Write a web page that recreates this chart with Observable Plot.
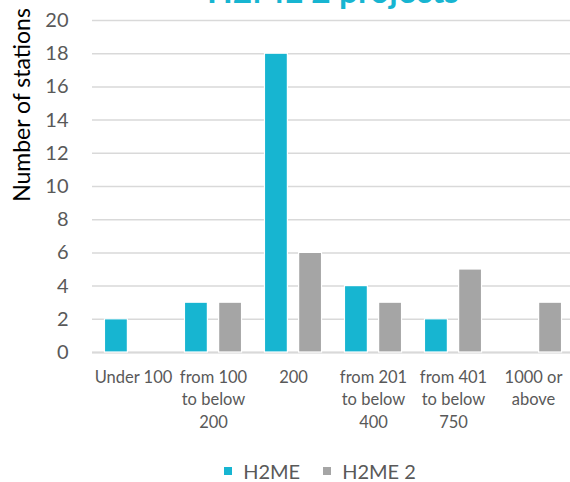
<!DOCTYPE html>
<html>
<head>
<meta charset="utf-8">
<script src="https://cdn.jsdelivr.net/npm/d3@7"></script>
<script src="https://cdn.jsdelivr.net/npm/@observablehq/plot@0.6"></script>
<style>
  html, body { margin: 0; padding: 0; background: #fff; }
  body { width: 570px; height: 482px; overflow: hidden; font-family: Lato, sans-serif; }
  #wrap { position: relative; width: 570px; height: 482px; }
  #title { position: absolute; left: 0; width: 666px; text-align: center; top: -30px; font-size: 33.5px; font-weight: bold; color: #17b5d1; white-space: nowrap; }
  #ylab { position: absolute; left: 21px; top: 105px; transform: translate(-50%, -50%) rotate(-90deg); font-size: 23px; color: #000; white-space: nowrap; }
  #chart { position: absolute; left: 0; top: 0; }
  #legend { position: absolute; top: 459px; left: 0; width: 640px; display: flex; justify-content: center; gap: 23px; font-size: 20px; color: #595959; }
  .item { display: flex; align-items: center; gap: 11px; }
  .sw { width: 8px; height: 8px; display: inline-block; }
</style>
</head>
<body>
<div id="wrap">
  <div id="chart"></div>
  <div id="title"></div>
  <div id="ylab"></div>
  <div id="legend"></div>
</div>
<script>
const titleText = "H2ME 2 projects";
const yLabel = "Number of stations";
const categories = ["Under 100", "from 100 to below 200", "200", "from 201 to below 400", "from 401 to below 750", "1000 or above"];
const tickLabels = ["Under 100", "from 100\nto below\n200", "200", "from 201\nto below\n400", "from 401\nto below\n750", "1000 or\nabove"];
const seriesNames = ["H2ME", "H2ME 2"];
const h2me = [2, 3, 18, 4, 2, 0];
const h2me2 = [0, 3, 6, 3, 5, 3];
const yTicks = [0, 2, 4, 6, 8, 10, 12, 14, 16, 18, 20];
const colors = ["#17b5d1", "#a5a5a5"];

const rows1 = categories.map((c, i) => ({category: c, value: h2me[i]}));
const rows2 = categories.map((c, i) => ({category: c, value: h2me2[i]}));
const labelOf = new Map(categories.map((c, i) => [c, tickLabels[i]]));

const width = 570, marginLeft = 92, marginRight = -3;
const step = (width - marginLeft - marginRight) / categories.length;
const barW = step * 0.288;
const outer = step * 0.143;

const chart = Plot.plot({
  width: width,
  height: 440,
  marginTop: 20,
  marginBottom: 88,
  marginLeft: marginLeft,
  marginRight: marginRight,
  style: {fontFamily: "Lato, sans-serif", background: "transparent"},
  x: {domain: categories, padding: 0, label: null},
  y: {domain: [0, 20], label: null},
  marks: [
    Plot.gridY(yTicks, {stroke: "#d9d9d9", strokeOpacity: 1, strokeWidth: 1.5}),
    Plot.ruleY([0], {stroke: "#d9d9d9", strokeWidth: 2}),
    Plot.barY(rows1, {x: "category", y: "value", fill: colors[0], stroke: "#fff", strokeWidth: 1.2,
      insetLeft: outer, insetRight: step - outer - barW}),
    Plot.barY(rows2, {x: "category", y: "value", fill: colors[1], stroke: "#fff", strokeWidth: 1.2,
      insetLeft: step - outer - barW, insetRight: outer}),
    Plot.axisY(yTicks, {tickSize: 0, tickPadding: 24, fontSize: 20, color: "#595959", label: null}),
    Plot.axisX({tickSize: 0, tickPadding: 14, fontSize: 16.5, lineHeight: 1.38, color: "#595959",
      tickFormat: d => labelOf.get(d), label: null})
  ]
});
document.getElementById("chart").appendChild(chart);
document.getElementById("title").textContent = titleText;
document.getElementById("ylab").textContent = yLabel;
const legend = document.getElementById("legend");
seriesNames.forEach((s, i) => {
  const it = document.createElement("div");
  it.className = "item";
  const sw = document.createElement("span");
  sw.className = "sw";
  sw.style.background = colors[i];
  const t = document.createElement("span");
  t.textContent = s;
  it.appendChild(sw); it.appendChild(t);
  legend.appendChild(it);
});
</script>
</body>
</html>
